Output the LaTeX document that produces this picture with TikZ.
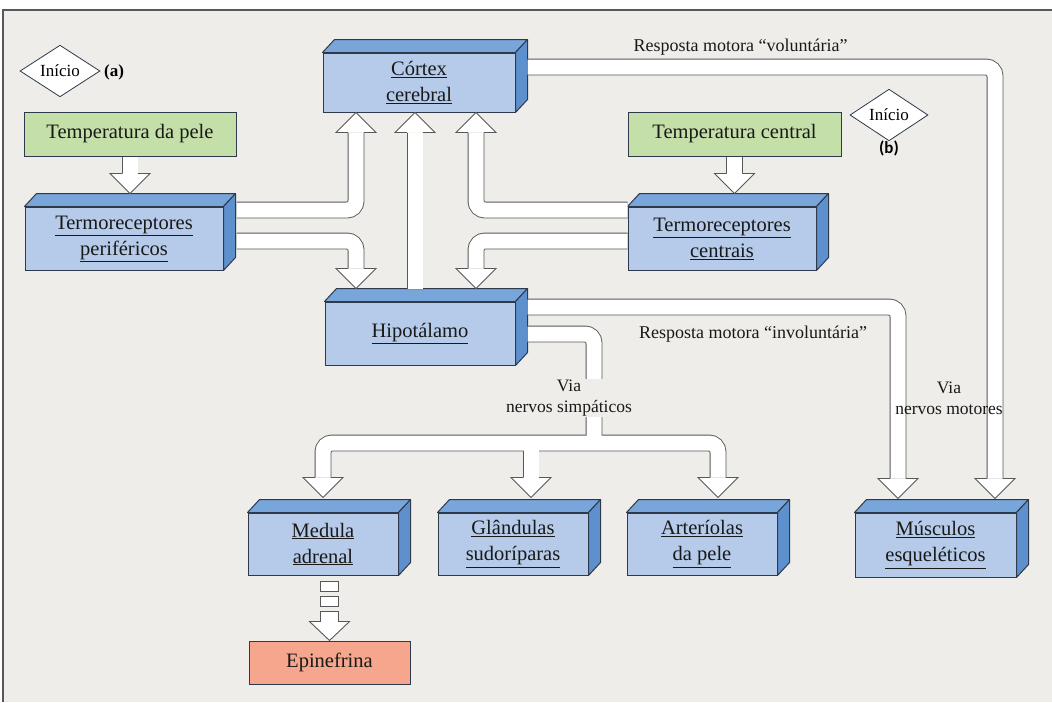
\documentclass[tikz,border=0pt]{standalone}
\usepackage{fontspec}
\setmainfont{Liberation Serif}
\newfontfamily\tnr{Liberation Serif}
\newfontfamily\carl{Carlito}
\usetikzlibrary{calc,shapes.geometric}
\definecolor{panel}{HTML}{EFEDE9}
\definecolor{frontc}{HTML}{B5CBE9}
\definecolor{topc}{HTML}{78A5DA}
\definecolor{sidec}{HTML}{5E90CE}
\definecolor{edge}{HTML}{2E3A4A}
\definecolor{greenc}{HTML}{C5DFA8}
\definecolor{salmon}{HTML}{F5A68D}
\definecolor{arredge}{HTML}{585858}
\newcommand{\un}[1]{\underline{#1}}
\newcommand{\boxfaces}[1]{%
  \filldraw[draw=edge, fill=topc, line width=1pt, line join=round] (#1.north west) -- ++(12,-13) -- ($(#1.north east)+(12,-13)$) -- (#1.north east) -- cycle;
  \filldraw[draw=edge, fill=sidec, line width=1pt, line join=round] (#1.north east) -- ++(12,-13) -- ($(#1.south east)+(12,-13)$) -- (#1.south east) -- cycle;}
\newcommand{\hdown}[1]{\filldraw[hd] ($(#1)+(-7.9,-20)$) -- ($(#1)+(-20,-20)$) -- (#1) -- ($(#1)+(20,-20)$) -- ($(#1)+(7.9,-20)$);}
\newcommand{\hup}[1]{\filldraw[hd] ($(#1)+(-7.9,20)$) -- ($(#1)+(-20,20)$) -- (#1) -- ($(#1)+(20,20)$) -- ($(#1)+(7.9,20)$);}
\newcommand{\allshafts}[1]{%
  \draw[#1] (tdp.south) -- ($(t1)+(0,-20)$);
  \draw[#1] (s2) -| ($(t2)+(0,20)$);
  \draw[#1] (s3) -| ($(t3)+(0,-20)$);
  \draw[#1] (s4) -- ($(t4)+(0,20)$);
  \draw[#1] (s5) -| ($(t5)+(0,20)$);
  \draw[#1] (s6) -| ($(t6)+(0,-20)$);
  \draw[#1] (tcen.south) -- ($(t7)+(0,-20)$);
  \draw[#1] (s8) -| ($(t8)+(0,-20)$);
  \draw[#1] (s9) -| ($(t9)+(0,-20)$);
  \draw[#1] (s10) -| (j);
  \draw[#1] ($(tm)+(0,-20)$) |- (j) -| ($(ta)+(0,-20)$);
  \draw[#1] (j -| tg) -- ($(tg)+(0,-20)$);}
\tikzset{
  box3d/.style={draw=edge, fill=frontc, line width=1pt, align=center, inner sep=0pt, text=black!90, font=\tnr\fontsize{20.5}{26}\selectfont},
  flat/.style={draw=edge, line width=1pt, align=center, inner sep=0pt, text=black!90, font=\tnr\fontsize{20.5}{26}\selectfont},
  startdia/.style={diamond, draw=edge, fill=white, line width=0.8pt, inner sep=0pt, font=\tnr\fontsize{17}{20}\selectfont},
  lbl/.style={font=\tnr\fontsize{18}{22}\selectfont, align=center, inner sep=1pt, text=black!90},
  sout/.style={draw=arredge, line width=16.8pt, rounded corners=9pt},
  sin/.style={draw=white, line width=15pt, rounded corners=9pt},
  hd/.style={draw=arredge, fill=white, line width=0.9pt},
}
\begin{document}
\begin{tikzpicture}[x=1pt,y=-1pt]
\useasboundingbox (0,0) rectangle (1052,702);
\fill[white] (0,0) rectangle (1052,702);
\fill[panel] (3,10) rectangle (1052,702);
\draw[arredge, line width=1.2pt] (1052,10) -- (3,10) -- (3,702);

% boxes
\node[box3d, minimum width=192pt, minimum height=59pt] (cortex) at (419,82.5) {\un{Córtex}\\\un{cerebral}};
\boxfaces{cortex}
\node[flat, fill=greenc, minimum width=212pt, minimum height=44pt] (tdp) at (130,134) {Temperatura da pele};
\node[box3d, minimum width=198pt, minimum height=63pt] (tper) at (124,238.5) {\un{Termoreceptores}\\\un{periféricos}};
\boxfaces{tper}
\node[box3d, minimum width=190pt, minimum height=63pt] (hip) at (420,333.5) {\un{Hipotálamo}};
\boxfaces{hip}
\node[flat, fill=greenc, minimum width=213pt, minimum height=44pt] (tcen) at (734.5,134) {Temperatura central};
\node[box3d, minimum width=188pt, minimum height=63pt] (tcr) at (722,238.5) {\un{Termoreceptores}\\\un{centrais}};
\boxfaces{tcr}
\node[box3d, minimum width=150pt, minimum height=62pt] (med) at (323,544) {\un{Medula}\\\un{adrenal}};
\boxfaces{med}
\node[box3d, minimum width=150pt, minimum height=62pt] (gla) at (513,544) {\un{Glândulas}\\\un{sudoríparas}};
\boxfaces{gla}
\node[box3d, minimum width=150pt, minimum height=62pt] (art) at (702,544) {\un{Arteríolas}\\\un{da pele}};
\boxfaces{art}
\node[box3d, minimum width=161pt, minimum height=64pt] (mus) at (935.5,545) {\un{Músculos}\\\un{esqueléticos}};
\boxfaces{mus}
\node[flat, fill=salmon, minimum width=161pt, minimum height=43pt] (epi) at (329.5,662.5) {Epinefrina};

\node[startdia, minimum width=80pt, minimum height=37pt] (ia) at (60,71) {Início};
\node[font=\tnr\bfseries\fontsize{17}{20}\selectfont, inner sep=0pt] (la) at (114,72) {(a)};
\node[startdia, minimum width=78pt, minimum height=38pt] (ib) at (889,115) {Início};
\node[font=\carl\bfseries\fontsize{17}{20}\selectfont, inner sep=0pt] (lb) at (889,148) {(b)};

% connector coordinates
\coordinate (t1) at ($(tdp.south |- tper.north)+(0,-13)$);
\coordinate (s2) at ($(tper.east)+(13,-28.5)$);
\coordinate (t2) at ($(cortex.south)+(-63,0)$);
\coordinate (s3) at ($(tper.east)+(13,2.5)$);
\coordinate (t3) at ($(hip.north)+(-64,-13)$);
\coordinate (s4) at ($(hip.north)+(-5,-12.5)$);
\coordinate (t4) at ($(cortex.south)+(-4,0)$);
\coordinate (s5) at ($(tcr.west)+(0,-28.5)$);
\coordinate (t5) at ($(cortex.south)+(57,0)$);
\coordinate (s6) at ($(tcr.west)+(0,2.5)$);
\coordinate (t6) at ($(hip.north)+(56,-13)$);
\coordinate (t7) at ($(tcen.south |- tcr.north)+(0,-13)$);
\coordinate (s8) at ($(cortex.east)+(12,-15.5)$);
\coordinate (t8) at ($(mus.north)+(59.5,-14)$);
\coordinate (s9) at ($(hip.east)+(12,-26.5)$);
\coordinate (t9) at ($(mus.north)+(-37.5,-14)$);
\coordinate (s10) at ($(hip.east)+(12,0.5)$);
\coordinate (j) at (594,443);
\coordinate (tm) at ($(med.north)+(0,-15)$);
\coordinate (tg) at ($(gla.north)+(18,-15)$);
\coordinate (ta) at ($(art.north)+(16,-15)$);

% block arrows
\allshafts{sout}
\allshafts{sin}
\hdown{t1} \hup{t2} \hdown{t3} \hup{t4} \hup{t5} \hdown{t6} \hdown{t7}
\hdown{t8} \hdown{t9} \hdown{tm} \hdown{tg} \hdown{ta}

% dashed block arrow to Epinefrina
\filldraw[hd] ($(epi.north)+(-9,-59)$) rectangle ($(epi.north)+(9,-49)$);
\filldraw[hd] ($(epi.north)+(-9,-44)$) rectangle ($(epi.north)+(9,-34)$);
\filldraw[hd] ($(epi.north)+(-9,-19)$) -- ($(epi.north)+(-9,-29)$) -- ($(epi.north)+(9,-29)$) -- ($(epi.north)+(9,-19)$) -- ($(epi.north)+(20,-19)$) -- (epi.north) -- ($(epi.north)+(-20,-19)$) -- cycle;

% labels
\node[lbl] (rv) at (740.5,47) {Resposta motora “voluntária”};
\node[lbl] (ri) at (753,334) {Resposta motora “involuntária”};
\node[lbl, fill=panel, font=\tnr\fontsize{17.5}{21}\selectfont] (vs) at (569,398) {Via\\nervos simpáticos};
\node[lbl, font=\tnr\fontsize{17.5}{21}\selectfont] (vm) at (949,398) {Via\\nervos motores};
\end{tikzpicture}
\end{document}
